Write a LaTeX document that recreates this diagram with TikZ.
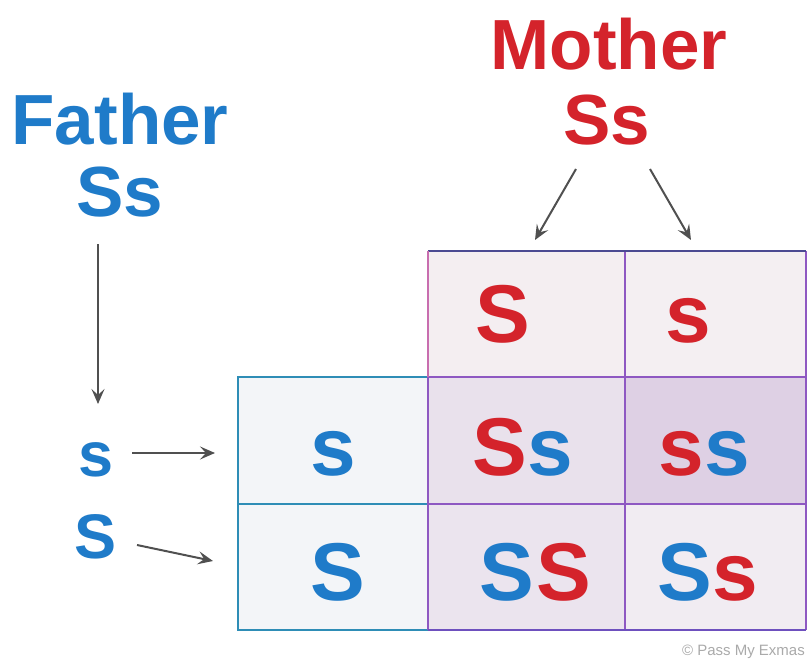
\documentclass[tikz,border=0pt]{standalone}
\usepackage{fontspec}
\setmainfont{Liberation Sans}
\usetikzlibrary{arrows.meta}
\definecolor{pred}{HTML}{D4232B}
\definecolor{pblue}{HTML}{1F7BC9}
\definecolor{garrow}{HTML}{505050}
\definecolor{gridp}{HTML}{8E58C2}
\definecolor{gridt}{HTML}{2E8DB6}
\definecolor{topline}{HTML}{4B4A92}
\tikzset{
  big/.style={font=\fontsize{71}{71}\selectfont\bfseries, inner sep=0pt, anchor=base},
  cellt/.style={font=\fontsize{82}{82}\selectfont\bfseries, inner sep=0pt, anchor=base},
  side/.style={font=\fontsize{63}{63}\selectfont\bfseries, inner sep=0pt, anchor=base, text=pblue},
  cellbox/.style={draw=none, inner sep=0pt, minimum width=#1, anchor=north west},
  arr/.style={draw=garrow, line width=2pt, -{Stealth[length=15pt,width=13pt,inset=6pt]}},
}
\begin{document}
\begin{tikzpicture}[x=1pt,y=-1pt]
\useasboundingbox (0,0) rectangle (807,661);
\fill[white] (0,0) rectangle (807,661);
% cells
\node[cellbox=197pt, minimum height=126pt, fill={rgb,255:red,244;green,238;blue,241}] (mS) at (428,251) {};
\node[cellbox=181pt, minimum height=126pt, fill={rgb,255:red,244;green,239;blue,242}] (ms) at (625,251) {};
\node[cellbox=190pt, minimum height=127pt, fill={rgb,255:red,243;green,245;blue,248}] (fs) at (238,377) {};
\node[cellbox=190pt, minimum height=126pt, fill={rgb,255:red,243;green,245;blue,248}] (fS) at (238,504) {};
\node[cellbox=197pt, minimum height=127pt, fill={rgb,255:red,233;green,225;blue,236}] (c11) at (428,377) {};
\node[cellbox=181pt, minimum height=127pt, fill={rgb,255:red,222;green,208;blue,228}] (c12) at (625,377) {};
\node[cellbox=197pt, minimum height=126pt, fill={rgb,255:red,235;green,228;blue,238}] (c21) at (428,504) {};
\node[cellbox=181pt, minimum height=126pt, fill={rgb,255:red,241;green,236;blue,242}] (c22) at (625,504) {};
% grid lines
\draw[gridt, line width=2pt] (c11.north west) -- (fs.north west) -- (fS.south west) -- (c21.south west);
\draw[gridt, line width=2pt] (fs.south west) -- (fs.south east);
\draw[gridp, line width=2pt] (c11.north west) -- (c12.north east);
\draw[gridp, line width=2pt] (c21.north west) -- (c22.north east);
\draw[gridp, line width=2pt] (mS.north west) -- (c21.south west);
\draw[gridp, line width=2pt] (ms.north west) -- (c22.south west);
\draw[gridp, line width=2pt] (ms.north east) -- (c22.south east);
\draw[color={rgb,255:red,110;green,80;blue,190}, line width=2pt] (c21.south west) -- (c22.south east);
\draw[topline, line width=2pt] (mS.north west) -- (ms.north east);
\draw[color={rgb,255:red,200;green,110;blue,175}, line width=1.2pt] (mS.north west) -- (mS.south west);
% headings
\node[big, text=pblue] (father) at (120,145) {Father};
\node[big, text=pblue] (fSs) at (120,216) {Ss};
\node[big, text=pred] (mother) at (609,70) {Mother};
\node[big, text=pred] (mSs) at (607,145) {Ss};
% top and left alleles
\node[cellt, text=pred] (tS) at (503,342) {S};
\node[cellt, text=pred] (ts) at (688,342) {s};
\node[cellt, text=pblue] (ls) at (333,475) {s};
\node[cellt, text=pblue] (lS) at (338,600) {S};
% offspring
\node[cellt] (o11) at (523,475) {\textcolor{pred}{S}\textcolor{pblue}{s}};
\node[cellt] (o12) at (704,475) {\textcolor{pred}{s}\textcolor{pblue}{s}};
\node[cellt] (o21) at (535,600) {\textcolor{pblue}{S}\kern2pt\textcolor{pred}{S}};
\node[cellt] (o22) at (708,600) {\textcolor{pblue}{S}\textcolor{pred}{s}};
% side labels
\node[side] (sidesmall) at (96,476) {s};
\node[side] (sidebig) at (96,558) {S};
% arrow anchors
\coordinate (fa1) at (98,244);
\coordinate (fa2) at (98,404);
\coordinate (ma1) at (576,169);
\coordinate (ma2) at (535,240);
\coordinate (mb1) at (650,169);
\coordinate (mb2) at (691,240);
\coordinate (sa1) at (132,453);
\coordinate (sa2) at (215,453);
\coordinate (sb1) at (137,545);
\coordinate (sb2) at (213,561);
\draw[arr] (fa1) -- (fa2);
\draw[arr] (ma1) -- (ma2);
\draw[arr] (mb1) -- (mb2);
\draw[arr] (sa1) -- (sa2);
\draw[arr] (sb1) -- (sb2);
% credit
\node[font=\fontsize{15}{15}\selectfont, text={rgb,255:red,170;green,170;blue,170}, anchor=base east, inner sep=0pt] (credit) at (805,655) {\textcopyright{} Pass My Exmas};
\end{tikzpicture}
\end{document}
